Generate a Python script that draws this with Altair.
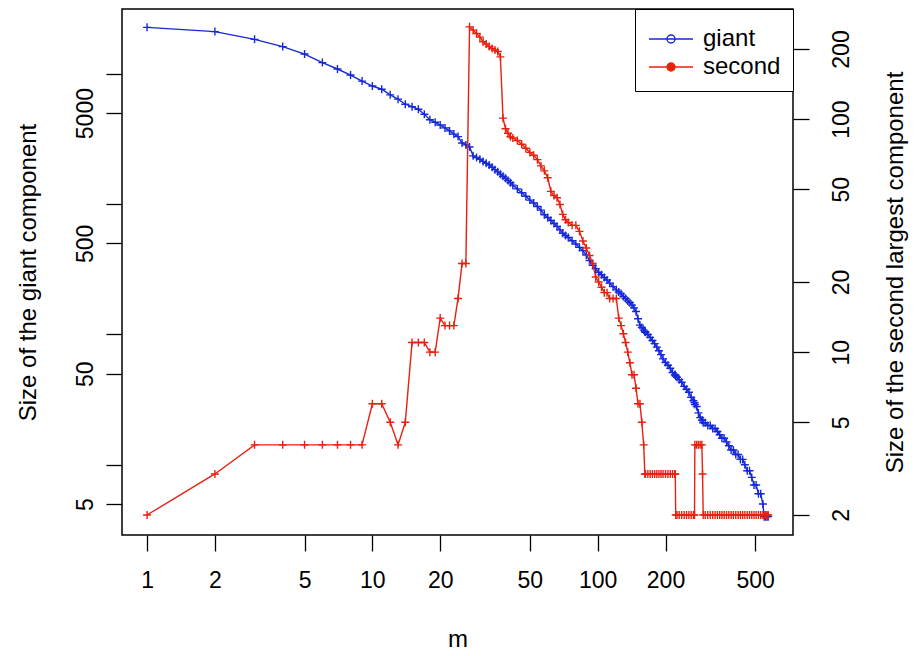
import altair as alt
import pandas as pd

# ---- data ----
m_values = [
    1, 2, 3, 4, 5, 6, 7, 8, 9, 10, 11, 12, 13, 14, 15, 16, 17, 18, 19, 20,
    21, 22, 23, 24, 25, 26, 27, 28, 29, 30, 31, 32, 33, 34, 35, 36, 37, 38, 39, 40,
    41, 42, 44, 46, 48, 50, 52, 54, 56, 58, 60, 62, 64, 66, 68, 70, 72, 74, 77, 80,
    83, 86, 89, 92, 95, 98, 101, 104, 107, 110, 113, 117, 121, 124, 127, 130, 133, 136, 139, 142,
    145, 148, 151, 154, 157, 160, 162, 163, 167, 171, 175, 179, 183, 187, 191, 195, 200, 205, 210, 215,
    220, 221, 222, 225, 230, 236, 242, 248, 254, 260, 266, 269, 270, 275, 280, 285, 290, 292, 294, 300,
    308, 316, 324, 332, 340, 348, 356, 364, 373, 382, 391, 400, 410, 420, 430, 440, 450, 461, 472, 483,
    494, 505, 517, 529, 541, 548, 556, 564, 571,
]

giant_sizes = [
    22750, 21100, 18400, 16200, 14200, 12200, 10900, 9800, 8800, 8070, 7620, 6900, 6400, 5850, 5600, 5350, 4900, 4450, 4250, 4050,
    3850, 3650, 3450, 3300, 2950, 2850, 2750, 2350, 2280, 2210, 2130, 2060, 2000, 1920, 1840, 1770, 1700, 1640, 1580, 1520,
    1460, 1400, 1310, 1225, 1150, 1075, 1020, 960, 900, 830, 790, 750, 710, 675, 635, 598, 575, 555, 524, 495,
    466, 440, 407, 370, 340, 320, 300, 287, 274, 262, 248, 233, 220, 212, 205, 196, 189, 181, 175, 168,
    160, 150, 132, 118, 113, 108, 105, 104, 100, 95, 90, 85, 80, 75, 70, 65, 61, 58, 55, 51,
    49, 49, 48, 47, 45, 43, 40, 38, 36, 33, 31, 30, 29, 28, 25, 23, 22, 22, 21, 21,
    20, 20, 19, 19, 18, 17, 16, 16, 15, 14, 13, 13, 12, 12, 11, 11, 10, 9, 9, 8,
    7, 7, 6, 6, 5, 4, 4, 4, 4,
]

second_sizes = [
    2, 3, 4, 4, 4, 4, 4, 4, 4, 6, 6, 5, 4, 5, 11, 11, 11, 10, 10, 14,
    13, 13, 13, 17, 24, 24, 249, 241, 233, 225, 215, 210, 205, 201, 198, 195, 185, 101, 91, 87,
    84, 83, 81, 78, 75, 72, 70, 67, 63, 60, 56, 49, 47, 46, 43, 39, 37, 36, 35, 35,
    33, 30, 28, 26, 24, 21, 20, 19, 18, 18, 17, 17, 17, 14, 13, 12, 11, 10, 9, 8,
    8, 7, 6, 6, 5, 4, 3, 3, 3, 3, 3, 3, 3, 3, 3, 3, 3, 3, 3, 3,
    3, 3, 2, 2, 2, 2, 2, 2, 2, 2, 2, 2, 4, 4, 4, 4, 4, 3, 2, 2,
    2, 2, 2, 2, 2, 2, 2, 2, 2, 2, 2, 2, 2, 2, 2, 2, 2, 2, 2, 2,
    2, 2, 2, 2, 2, 2, 2, 2, 2,
]

series_names = ["giant", "second"]
x_ticks = [1, 2, 5, 10, 20, 50, 100, 200, 500]
giant_ticks = [5, 10, 50, 100, 500, 1000, 5000, 10000]
second_ticks = [2, 5, 10, 20, 50, 100, 200]

giant_df = pd.DataFrame({"m": m_values, "size": giant_sizes, "series": series_names[0]})
second_df = pd.DataFrame({"m": m_values, "size": second_sizes, "series": series_names[1]})

BLUE = "#1428d8"
RED = "#e8200f"
FONT = "Liberation Sans"
CROSS = "M-1,0L1,0M0,-1L0,1"
LEG_SYMBOL = "M-1.467,0L1.467,0M0.267,0A0.267,0.267 0 1 1 -0.267,0A0.267,0.267 0 1 1 0.267,0"

W, H = 671, 526

x_enc = alt.X(
    "m:Q",
    scale=alt.Scale(type="log", domain=[0.774, 736], nice=False, zero=False),
    axis=alt.Axis(
        values=x_ticks, format="d", title="m", grid=False, domain=False,
        tickSize=16, tickColor="black", tickWidth=1.3,
        labelFont=FONT, labelFontSize=23, labelColor="black", labelPadding=18,
        labelFlush=False, labelOverlap=False,
        titleFont=FONT, titleFontSize=24, titleFontWeight="normal", titleColor="black",
        titleX=W / 2, titleY=111, titleAlign="center", titleBaseline="alphabetic",
    ),
)

giant_y = alt.Y(
    "size:Q",
    scale=alt.Scale(type="log", domain=[2.891, 31470], nice=False, zero=False),
    axis=alt.Axis(
        orient="left", values=giant_ticks, format="d",
        labelExpr="(datum.value == 5 || datum.value == 50 || datum.value == 500 || datum.value == 5000) ? datum.label : ''",
        title="Size of the giant component", grid=False, domain=False,
        tickSize=16, tickColor="black", tickWidth=1.3,
        labelFont=FONT, labelFontSize=23, labelColor="black", labelPadding=9,
        labelAngle=270, labelAlign="center", labelBaseline="bottom", labelOverlap=False,
        titleFont=FONT, titleFontSize=24, titleFontWeight="normal", titleColor="black",
        titleAngle=270, titleX=-94, titleY=H / 2, titleAlign="center", titleBaseline="middle",
    ),
)

second_y = alt.Y(
    "size:Q",
    scale=alt.Scale(type="log", domain=[1.641, 297], nice=False, zero=False),
    axis=alt.Axis(
        orient="right", values=second_ticks, format="d",
        title="Size of the second largest component", grid=False, domain=False,
        tickSize=16, tickColor="black", tickWidth=1.3,
        labelFont=FONT, labelFontSize=23, labelColor="black", labelPadding=21,
        labelAngle=270, labelAlign="center", labelBaseline="top", labelOverlap=False,
        titleFont=FONT, titleFontSize=24, titleFontWeight="normal", titleColor="black",
        titleAngle=270, titleX=102, titleY=H / 2, titleAlign="center", titleBaseline="middle",
    ),
)

legend = alt.Legend(
    title=" ", titleFontSize=2, titlePadding=0,
    orient="top-right", offset=0, padding=12, rowPadding=0,
    symbolOffset=8, labelOffset=16,
    labelFont=FONT, labelFontSize=24, labelColor="black", labelLimit=0,
    symbolType=LEG_SYMBOL, symbolSize=900, symbolStrokeWidth=1.4,
    strokeColor="black", fillColor="white",
)
stroke_scale = alt.Scale(domain=series_names, range=[BLUE, RED])
fill_scale = alt.Scale(domain=series_names, range=["white", RED])

giant_line = alt.Chart(giant_df).mark_line(color=BLUE, strokeWidth=1.4).encode(
    x=x_enc, y=giant_y, order="m:Q"
)
giant_pts = alt.Chart(giant_df).mark_point(
    shape=CROSS, size=64, strokeWidth=1.4, filled=False, opacity=1
).encode(
    x=x_enc, y=giant_y,
    stroke=alt.Stroke("series:N", scale=stroke_scale, legend=legend),
    fill=alt.Fill("series:N", scale=fill_scale, legend=legend),
)

second_line = alt.Chart(second_df).mark_line(color=RED, strokeWidth=1.4).encode(
    x=x_enc, y=second_y, order="m:Q"
)
second_pts = alt.Chart(second_df).mark_point(
    shape=CROSS, size=64, strokeWidth=1.4, filled=False, opacity=1
).encode(
    x=x_enc, y=second_y,
    stroke=alt.Stroke("series:N", scale=stroke_scale, legend=legend),
    fill=alt.Fill("series:N", scale=fill_scale, legend=legend),
)

chart = (
    alt.layer(
        alt.layer(giant_line, giant_pts),
        alt.layer(second_line, second_pts),
    )
    .resolve_scale(y="independent")
    .properties(
        width=W, height=H,
        padding={"left": 122, "top": 9, "right": 121, "bottom": 121},
        autosize=alt.AutoSizeParams(type="none"),
        background="white",
    )
    .configure_view(stroke="black", strokeWidth=1.5)
)

chart.save("out.html", embed_options={"renderer": "svg", "actions": False})
